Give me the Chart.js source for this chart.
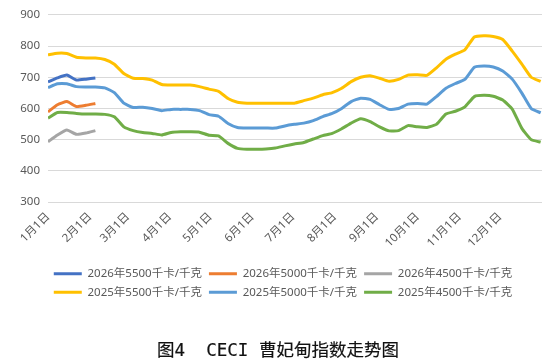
<!DOCTYPE html>
<html>
<head>
<meta charset="utf-8">
<script src="https://cdn.jsdelivr.net/npm/chart.js@4/dist/chart.umd.min.js"></script>
<style>
  html, body { margin: 0; padding: 0; background: #fff; }
  #wrap { position: relative; width: 556px; height: 364px; overflow: hidden; }
  #c { position: absolute; left: 0; top: 0; }
  #cap { position: absolute; left: 0; width: 556px; top: 338px; text-align: center;
         font-family: "DejaVu Sans Mono", "Noto Sans CJK SC", monospace; font-weight: normal; font-size: 17.5px;
         color: #111; -webkit-text-stroke: 0.2px #111; line-height: 24px; white-space: pre; }
</style>
</head>
<body>
<div id="wrap">
  <canvas id="c" width="556" height="364"></canvas>
  <div id="cap">图4  CECI 曹妃甸指数走势图</div>
</div>
<script>
// ---- data (day of year, weekly) ----
const days2025 = [0,7,14,21,28,35,42,49,56,63,70,77,84,91,98,105,112,119,126,133,140,147,154,161,168,175,182,189,196,203,210,217,224,231,238,245,252,259,266,273,280,287,294,301,308,315,322,329,336,343,350,357,364];
const days2026 = [0,7,14,21,28,35];

const s2026_5500 = [685,698,707,691,694,698];
const s2026_5000 = [589,612,622,606,610,616];
const s2026_4500 = [493,515,531,517,521,529];

const s2025_5500 = [772,777,776,764,762,762,757,742,712,697,696,691,677,675,675,675,670,662,655,632,620,617,617,617,617,617,617,625,633,644,651,665,686,700,705,697,687,693,707,708,706,730,758,774,788,829,833,831,821,784,743,700,687];
const s2025_5000 = [667,679,679,670,669,669,666,651,617,603,604,600,593,597,597,597,593,580,575,552,539,537,537,537,537,544,549,553,561,574,584,600,622,633,629,612,597,600,614,616,614,638,665,680,693,732,736,733,720,694,650,600,586];
const s2025_4500 = [569,587,587,584,582,582,581,573,541,529,523,520,515,523,525,525,524,514,512,488,472,469,469,470,473,480,486,491,502,513,520,535,553,567,558,541,528,529,545,541,539,549,582,591,605,638,642,639,627,598,537,500,492];

const seriesNames = ["2026年5500千卡/千克","2026年5000千卡/千克","2026年4500千卡/千克","2025年5500千卡/千克","2025年5000千卡/千克","2025年4500千卡/千克"];
const monthStarts = [0,31,59,90,120,151,181,212,243,273,304,334];
const monthLabels = ["1月1日","2月1日","3月1日","4月1日","5月1日","6月1日","7月1日","8月1日","9月1日","10月1日","11月1日","12月1日"];
const yTicks = [300,400,500,600,700,800,900];

const colors = ["#4472C4","#ED7D31","#A5A5A5","#FFC000","#5B9BD5","#70AD47"];

function pts(xs, ys) { return ys.map((v, i) => ({x: xs[i], y: v})); }

const allSeries = [
  pts(days2026, s2026_5500), pts(days2026, s2026_5000), pts(days2026, s2026_4500),
  pts(days2025, s2025_5500), pts(days2025, s2025_5000), pts(days2025, s2025_4500)
];

const datasets = allSeries.map((d, i) => ({
  label: seriesNames[i],
  data: d,
  borderColor: colors[i],
  backgroundColor: colors[i],
  borderWidth: 3,
  pointRadius: 0,
  tension: 0.15,
  fill: false
}));

const FONT = '"Noto Sans", "Noto Sans CJK SC", sans-serif';
const GREY = "#595959";

const shiftLegend = {
  id: "shiftLegend",
  afterLayout(chart) {
    const lg = chart.legend;
    if (lg) { lg.left += 12; lg.right += 12; }
  }
};

new Chart(document.getElementById("c"), {
  type: "line",
  data: { datasets },
  plugins: [shiftLegend],
  options: {
    responsive: false,
    animation: false,
    layout: { padding: { left: 0, right: 14, top: 14, bottom: 56 } },
    plugins: {
      tooltip: { enabled: false },
      legend: {
        position: "bottom",
        labels: {
          boxWidth: 28,
          boxHeight: 3,
          padding: 7,
          color: GREY,
          font: { family: FONT, size: 11.5 },
          generateLabels(chart) {
            const items = Chart.defaults.plugins.legend.labels.generateLabels(chart);
            return items.map(it => Object.assign(it, { lineWidth: 0, fillStyle: it.strokeStyle }));
          }
        }
      }
    },
    scales: {
      x: {
        type: "linear",
        min: 0,
        max: 365,
        grid: { display: false, drawTicks: false },
        border: { display: false },
        afterBuildTicks(scale) { scale.ticks = monthStarts.map(v => ({ value: v })); },
        afterFit(scale) { scale.height = 59; },
        ticks: {
          autoSkip: false,
          minRotation: 45,
          maxRotation: 45,
          padding: 8,
          color: GREY,
          font: { family: FONT, size: 11.5 },
          callback(v) { const k = monthStarts.indexOf(v); return k >= 0 ? monthLabels[k] : ""; }
        }
      },
      y: {
        min: 300,
        max: 900,
        afterBuildTicks(scale) { scale.ticks = yTicks.map(v => ({ value: v })); },
        afterFit(scale) { scale.width = 48; },
        grid: { color: "#d9d9d9", lineWidth: 1, drawTicks: false },
        border: { display: false },
        ticks: {
          padding: 8,
          color: GREY,
          font: { family: FONT, size: 11.5 }
        }
      }
    }
  }
});
</script>
</body>
</html>
